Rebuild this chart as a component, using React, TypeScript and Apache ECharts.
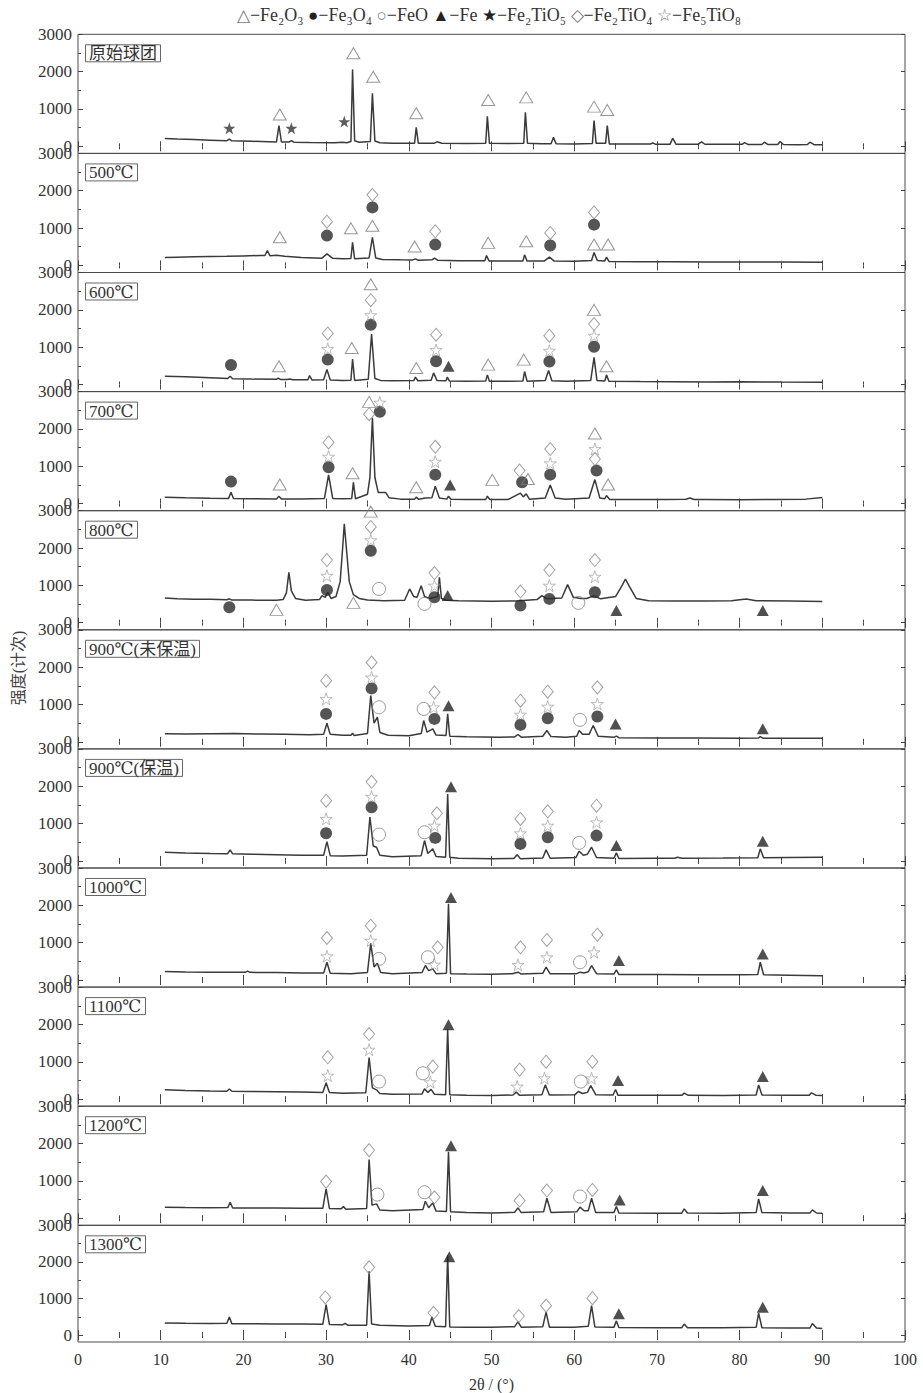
import React, { useEffect, useRef } from "react";
import * as echarts from "echarts";

const panelLabels = ["原始球团", "500℃", "600℃", "700℃", "800℃", "900℃(未保温)", "900℃(保温)", "1000℃", "1100℃", "1200℃", "1300℃"];
const yLabelValues = [0, 1000, 2000, 3000];
const yMinorValues = [500, 1500, 2500];
const legendText = "{g|△}−Fe₂O₃ {k|●}−Fe₃O₄ {g|○}−FeO {k|▲}−Fe {k|★}−Fe₂TiO₅ {g|◇}−Fe₂TiO₄ {g|☆}−Fe₅TiO₈";

// ---- XRD curves, [2θ, intensity] ----
const curveRaw = [[10.5,210],[12,195],[14,180],[16,165],[18,150],[18.3,195],[18.6,148],[21,135],[24,118],[24.3,555],[24.6,115],[25.5,112],[25.8,155],[26.1,110],[28,100],[31,92],[32,110],[32.5,95],[33.0,130],[33.2,2060],[33.45,150],[34,110],[35.35,130],[35.6,1420],[35.9,140],[36.5,95],[38,85],[40.7,85],[40.9,510],[41.15,85],[43.1,85],[43.4,120],[44,80],[47,75],[49.3,80],[49.5,804],[49.75,80],[52,72],[53.9,80],[54.1,911],[54.35,80],[56,70],[57.2,70],[57.5,244],[57.8,68],[60,65],[62.2,75],[62.4,689],[62.65,80],[63.8,80],[64.0,555],[64.25,65],[67,60],[69.2,60],[69.5,90],[69.8,58],[71.6,58],[71.9,218],[72.3,58],[75.0,56],[75.4,120],[75.8,55],[78,52],[80.3,52],[80.6,100],[81,50],[82.7,50],[83,110],[83.4,50],[84.6,49],[84.9,129],[85.3,48],[87,45],[88.2,46],[88.5,111],[89,45],[90,40]];
const curve500 = [[10.5,212],[12,220],[14,230],[16,240],[18,245],[20,255],[22,265],[22.6,265],[22.9,398],[23.2,260],[24,270],[25,245],[27,215],[29.5,195],[30.1,310],[30.8,190],[32,175],[33.0,185],[33.2,620],[33.45,175],[35.2,200],[35.6,754],[36.0,200],[36.8,160],[39,150],[40.5,148],[40.8,176],[41.1,140],[42.8,150],[43.1,194],[43.5,140],[46,125],[49.2,125],[49.4,265],[49.7,120],[52,115],[53.8,120],[54.0,283],[54.3,115],[56.4,120],[57.0,220],[57.6,115],[60,110],[62.1,130],[62.4,345],[62.8,130],[63.7,120],[63.9,220],[64.2,105],[68,100],[72,95],[76,92],[80,90],[85,88],[90,85]];
const curve600 = [[10.5,222],[13,205],[16,180],[18.1,160],[18.4,222],[18.7,155],[21,145],[24.0,140],[24.2,169],[24.5,135],[25.3,132],[25.6,150],[26,130],[27.8,125],[28.0,240],[28.3,120],[29.7,125],[30.1,400],[30.5,120],[32,110],[33.0,115],[33.2,684],[33.45,110],[35.1,140],[35.5,1351],[35.9,160],[36.6,110],[38,100],[40.6,105],[40.8,196],[41.1,100],[42.7,115],[43.0,311],[43.4,110],[44.5,100],[44.65,196],[44.9,95],[47,90],[49.3,92],[49.5,258],[49.75,90],[52,88],[53.8,95],[54.0,347],[54.3,90],[56.5,110],[56.9,373],[57.3,100],[59,85],[62.0,110],[62.4,729],[62.75,110],[63.7,95],[63.9,258],[64.2,85],[68,78],[72,75],[76,70],[80,72],[85,66],[90,62]];
const curve700 = [[10.5,173],[13,160],[16,145],[18.2,140],[18.5,306],[18.8,135],[21,130],[24.0,125],[24.3,199],[24.6,125],[27,125],[29.8,140],[30.3,768],[30.8,140],[32,130],[33.1,140],[33.3,572],[33.55,130],[35.0,250],[35.3,700],[35.6,2300],[35.9,700],[36.3,300],[37.2,300],[37.6,160],[39,120],[40.7,120],[40.9,173],[41.2,115],[42.0,150],[42.8,160],[43.2,466],[43.7,150],[44.6,120],[44.8,199],[45.1,115],[47,110],[49.3,110],[49.5,199],[49.8,110],[52,110],[53.5,279],[53.85,180],[54.2,262],[54.6,115],[56.5,150],[57.1,501],[57.7,150],[59,115],[61.8,150],[62.5,643],[63.1,150],[63.7,130],[63.9,217],[64.3,110],[68,110],[71,110],[73.5,115],[74,150],[74.5,112],[76,110],[80,105],[84,110],[88,120],[90,164]];
const curve800 = [[10.5,662],[12,640],[14,630],[16,625],[18,615],[18.3,640],[18.6,605],[21,605],[24,600],[24.8,620],[25.2,800],[25.5,1348],[25.8,850],[26.3,650],[27.5,600],[29.2,620],[29.5,726],[29.9,680],[30.2,815],[30.6,650],[31.2,700],[31.7,1100],[32.0,2000],[32.2,2650],[32.45,2000],[32.8,1100],[33.3,750],[34,650],[35,610],[37,590],[39.5,600],[40.1,904],[40.6,700],[41.0,680],[41.5,992],[41.9,700],[42.5,650],[43.5,700],[43.7,1215],[43.95,650],[44.5,600],[46,585],[50,575],[53,580],[55.5,620],[56.1,726],[56.7,640],[58.5,660],[59.2,1019],[59.9,680],[60.8,650],[61.5,650],[62.4,720],[63.2,640],[65,700],[65.8,1000],[66.2,1171],[66.6,1000],[67.5,650],[69,590],[72,580],[76,580],[79,590],[80.8,635],[82,590],[86,580],[90,566]];
const curve900a = [[10.5,213],[13,210],[16,215],[19,220],[22,210],[25,200],[28,190],[29.7,200],[30.1,498],[30.5,200],[32,175],[33.0,175],[33.2,230],[33.4,170],[35.0,220],[35.4,1236],[35.8,500],[36.2,658],[36.5,250],[37.5,175],[40,160],[41.5,220],[41.8,569],[42.2,260],[42.9,347],[43.3,180],[44.5,170],[44.7,747],[44.95,150],[47,135],[51,125],[52.8,130],[53.2,196],[53.6,125],[56.2,150],[56.7,302],[57.2,140],[59,120],[60.3,150],[60.6,302],[61.0,200],[61.8,200],[62.3,436],[62.9,150],[64.8,120],[65.1,151],[65.4,110],[70,100],[75,100],[80,95],[82.3,100],[82.5,142],[82.8,98],[86,95],[90,98]];
const curve900b = [[10.5,234],[13,215],[16,200],[18.1,195],[18.4,296],[18.7,190],[21,180],[24,165],[27,150],[29.7,150],[30.1,518],[30.5,140],[32,130],[34.9,150],[35.3,1176],[35.7,400],[36.1,367],[36.5,150],[38,110],[41.5,140],[41.9,545],[42.3,200],[42.9,323],[43.3,120],[44.45,100],[44.7,1789],[44.95,100],[46,70],[50,58],[52.7,65],[53.1,163],[53.5,60],[56.2,80],[56.6,296],[57.1,70],[60.2,90],[60.6,260],[61.1,150],[61.6,180],[62.1,367],[62.7,90],[64.8,70],[65.1,216],[65.4,65],[70,70],[72.2,72],[72.5,100],[73,72],[78,75],[82.2,85],[82.5,323],[82.9,85],[86,90],[90,100]];
const curve1000 = [[10.5,227],[13,215],[16,210],[19,205],[20.2,205],[20.5,240],[20.8,205],[24,200],[27,190],[29.7,185],[30.1,476],[30.5,180],[33,170],[35.0,200],[35.4,980],[35.8,350],[36.2,450],[36.6,200],[38,170],[41.6,200],[42.0,388],[42.4,250],[42.9,299],[43.3,170],[44.55,180],[44.8,2040],[45.05,170],[47,160],[50,155],[52.5,170],[53.2,210],[53.6,160],[56.2,180],[56.6,343],[57.1,165],[60.3,170],[60.7,210],[61.2,190],[61.7,220],[62.1,388],[62.7,170],[64.8,160],[65.1,272],[65.4,150],[70,145],[75,140],[80,140],[82.2,150],[82.5,476],[82.9,140],[86,130],[90,112]];
const curve1100 = [[10.5,248],[13,230],[16,215],[18.0,212],[18.3,270],[18.6,210],[21,205],[24,200],[27,190],[29.6,180],[30.0,435],[30.4,175],[32,160],[34.8,170],[35.2,1110],[35.6,300],[36.1,248],[36.5,150],[38,130],[41.6,140],[41.9,275],[42.3,180],[42.7,260],[43.1,130],[44.45,120],[44.7,1874],[44.95,120],[47,100],[50,95],[52.6,110],[53.0,186],[53.4,100],[56.1,120],[56.5,381],[57.0,110],[60.1,120],[60.5,203],[61.0,150],[61.6,180],[62.0,364],[62.6,120],[64.7,110],[65.0,257],[65.3,100],[70,100],[73.0,100],[73.3,160],[73.8,100],[78,95],[82.0,110],[82.3,381],[82.7,110],[86,100],[88.4,100],[88.7,168],[89.2,105],[90,97]];
const curve1200 = [[10.5,295],[13,285],[16,280],[18.1,285],[18.4,429],[18.7,275],[21,275],[24,275],[27,270],[29.6,265],[30.0,784],[30.4,260],[31.8,250],[32.1,310],[32.4,240],[34.9,260],[35.2,1570],[35.55,350],[36.1,384],[36.5,220],[38,200],[41.7,230],[42.0,455],[42.4,280],[42.9,411],[43.3,190],[44.55,180],[44.8,1780],[45.05,170],[47,150],[50,140],[52.8,160],[53.2,277],[53.6,150],[56.3,170],[56.7,535],[57.2,150],[60.3,170],[60.7,295],[61.2,200],[61.7,200],[62.1,535],[62.6,150],[64.8,150],[65.1,313],[65.4,140],[70,135],[73.0,135],[73.3,250],[73.7,140],[78,135],[82.0,150],[82.3,517],[82.7,150],[86,140],[88.5,137],[88.8,224],[89.3,140],[90,135]];
const curve1300 = [[10.5,329],[13,320],[16,315],[18.0,320],[18.3,493],[18.6,310],[21,310],[24,305],[27,300],[29.6,295],[30.0,831],[30.4,290],[32.0,280],[32.3,320],[32.6,270],[34.9,270],[35.2,1740],[35.5,300],[36.5,270],[40,245],[42.5,260],[42.8,493],[43.2,240],[44.45,230],[44.7,2180],[44.95,220],[47,210],[50,210],[52.8,230],[53.2,360],[53.6,215],[56.2,230],[56.6,627],[57.0,215],[60,210],[61.7,240],[62.1,804],[62.5,220],[64.8,210],[65.1,387],[65.4,205],[70,200],[73.0,200],[73.3,300],[73.7,200],[78,200],[82.0,210],[82.3,600],[82.7,200],[86,195],[88.5,192],[88.8,316],[89.3,190],[90,182]];

// ---- phase markers, [2θ, intensity] ----
const markRaw = {
  starF: [[18.3,484],[25.8,484],[32.2,662]],
  triH: [[24.4,850],[33.3,2493],[35.7,1862],[40.9,884],[49.6,1240],[54.2,1311],[62.4,1062],[64.0,973]],
};
const mark500 = {
  triH: [[24.4,754],[33.0,993],[35.6,1064],[40.7,505],[49.6,603],[54.2,647],[62.4,558],[64.1,558]],
  diaH: [[30.1,1171],[35.6,1891],[43.2,914],[57.1,869],[62.4,1420]],
  cirF: [[30.1,798],[35.6,1554],[43.2,558],[57.1,532],[62.4,1091]],
};
const mark600 = {
  cirF: [[18.5,524],[30.2,667],[35.4,1600],[43.3,622],[57.0,613],[62.4,1013]],
  triH: [[24.3,489],[33.1,978],[35.4,2684],[40.9,444],[49.6,533],[53.9,667],[62.4,2000],[63.9,489]],
  diaH: [[30.2,1369],[35.4,2258],[43.3,1333],[57.0,1307],[62.4,1618]],
  starH: [[30.2,951],[35.4,1858],[43.3,924],[57.0,907],[62.4,1307]],
  triF: [[44.8,489]],
};
const mark700 = {
  cirF: [[18.5,590],[30.3,972],[36.5,2457],[43.2,776],[53.7,572],[57.1,776],[62.7,884]],
  triH: [[24.4,510],[33.2,813],[35.2,2724],[40.9,439],[50.1,635],[54.4,661],[62.5,1879],[64.1,510]],
  diaH: [[30.3,1639],[35.2,2395],[43.2,1523],[53.4,884],[57.1,1461],[62.5,1194]],
  starH: [[30.3,1256],[36.5,2706],[43.2,1123],[57.1,1079],[62.5,1461]],
  triF: [[45.0,501]],
};
const mark800 = {
  cirF: [[18.3,415],[30.1,876],[35.4,1926],[43.1,682],[53.5,460],[57.0,637],[62.5,815]],
  triH: [[24.0,344],[33.3,531],[35.4,2975]],
  diaH: [[30.1,1677],[35.4,2566],[43.1,1330],[53.5,834],[57.0,1410],[62.5,1677]],
  starH: [[30.1,1259],[35.4,2210],[43.1,993],[57.0,993],[62.5,1233]],
  cirH: [[36.4,904],[41.9,504],[60.5,531]],
  triF: [[44.7,726],[65.1,326],[82.8,326]],
};
const mark900a = {
  diaH: [[30.0,1636],[35.5,2124],[43.1,1324],[53.5,1102],[56.8,1342],[62.8,1458]],
  starH: [[30.0,1147],[35.5,1724],[43.0,924],[53.5,729],[56.8,942],[62.8,1013]],
  cirF: [[30.0,747],[35.5,1431],[43.1,613],[53.5,453],[56.8,631],[62.8,676]],
  cirH: [[36.4,924],[41.8,880],[60.7,587]],
  triF: [[44.8,969],[65.0,480],[82.8,347]],
};
const mark900b = {
  diaH: [[30.0,1612],[35.5,2118],[43.4,1274],[53.5,1123],[56.8,1327],[62.7,1478]],
  starH: [[30.0,1123],[35.5,1718],[43.1,945],[53.5,740],[56.8,945],[62.7,1034]],
  cirF: [[30.0,740],[35.5,1434],[43.2,616],[53.5,456],[56.8,634],[62.7,678]],
  cirH: [[36.4,705],[41.9,767],[60.6,483]],
  triF: [[45.1,1985],[65.1,412],[82.8,527]],
};
const mark1000 = {
  diaH: [[30.1,1125],[35.4,1454],[43.5,876],[53.5,876],[56.7,1072],[62.8,1214]],
  starH: [[30.1,636],[35.4,1054],[43.1,414],[53.2,405],[56.7,610],[62.4,742]],
  cirH: [[36.4,565],[42.3,610],[60.7,476]],
  triF: [[45.1,2210],[65.4,521],[82.8,699]],
};
const mark1100 = {
  diaH: [[30.2,1119],[35.2,1741],[42.9,870],[53.4,790],[56.6,1003],[62.2,1003]],
  starH: [[30.2,630],[35.2,1324],[42.6,452],[53.1,337],[56.4,559],[62.1,559]],
  cirH: [[36.4,470],[41.7,692],[60.8,470]],
  triF: [[44.8,1990],[65.3,497],[82.8,604]],
};
const mark1200 = {
  diaH: [[30.0,980],[35.2,1824],[43.1,561],[53.4,473],[56.7,740],[62.2,757]],
  cirH: [[36.2,633],[41.9,695],[60.7,580]],
  triF: [[45.1,1940],[65.5,490],[82.8,740]],
};
const mark1300 = {
  diaH: [[29.9,1027],[35.2,1853],[43.0,609],[53.3,520],[56.6,804],[62.2,1009]],
  triF: [[44.9,2138],[65.4,582],[82.8,760]],
};

const curves = [curveRaw, curve500, curve600, curve700, curve800, curve900a, curve900b, curve1000, curve1100, curve1200, curve1300];
const marks: Record<string, number[][]>[] = [markRaw, mark500, mark600, mark700, mark800, mark900a, mark900b, mark1000, mark1100, mark1200, mark1300];

const STAR = "path://M50,0 L61.8,35.5 L99,35.5 L69,57.5 L80.5,93 L50,71 L19.5,93 L31,57.5 L1,35.5 L38.2,35.5 Z";
const SYM: Record<string, any> = {
  triH: { symbol: "triangle", size: [13, 11], style: { color: "rgba(255,255,255,0)", borderColor: "#7c7c7c", borderWidth: 1 } },
  triF: { symbol: "triangle", size: [12, 11], style: { color: "#232323" } },
  cirF: { symbol: "circle", size: 12, style: { color: "#2b2b2b" } },
  cirH: { symbol: "circle", size: 13, style: { color: "rgba(255,255,255,0)", borderColor: "#808080", borderWidth: 1 } },
  diaH: { symbol: "diamond", size: [11, 13], style: { color: "rgba(255,255,255,0)", borderColor: "#8a8a8a", borderWidth: 1 } },
  starF: { symbol: STAR, size: 12, style: { color: "#333" } },
  starH: { symbol: STAR, size: 12, style: { color: "rgba(255,255,255,0)", borderColor: "#a0a0a0", borderWidth: 0.9 } },
};

const FONT = '"Liberation Serif","DejaVu Serif","Noto Sans CJK SC",serif';

export default function App() {
  const ref = useRef<HTMLDivElement>(null);
  useEffect(() => {
    if (!ref.current) return;
    const chart = echarts.init(ref.current, null, { renderer: "svg" });
    const N = curves.length;
    const top0 = 34.3;
    const ph = 119.1;
    const grids: any[] = [];
    const xAxes: any[] = [];
    const yAxes: any[] = [];
    const titles: any[] = [];
    const series: any[] = [];
    const tickColor = "#444";
    const plain = (v: number) => String(v);
    for (let i = 0; i < N; i++) {
      const top = top0 + i * ph;
      grids.push({ left: 78, width: 827, top, height: ph, show: true, borderColor: "#4a4a4a", borderWidth: 1, backgroundColor: "transparent" });
      const last = i === N - 1;
      const xBase = {
        type: "value", gridIndex: i, min: 0, max: 100, interval: 10,
        axisLine: { show: false },
        axisTick: { show: true, inside: true, length: 5, lineStyle: { color: tickColor } },
        minorTick: { show: true, splitNumber: 2, length: 3, lineStyle: { color: tickColor } },
        splitLine: { show: false }, minorSplitLine: { show: false },
      };
      xAxes.push({
        ...xBase, position: "bottom",
        axisLabel: { show: last, fontSize: 16, color: "#333", fontFamily: FONT, margin: 9, formatter: plain },
        name: last ? "2θ / (°)" : "", nameLocation: "middle", nameGap: 34,
        nameTextStyle: { fontSize: 16, color: "#333", fontFamily: FONT },
      });
      xAxes.push({ ...xBase, position: "top", axisLabel: { show: false } });
      const yBase = { type: "value", gridIndex: i, min: -190, max: 3000, axisLine: { show: false }, splitLine: { show: false } };
      yAxes.push({
        ...yBase, position: "left",
        axisTick: { show: true, inside: true, length: 5, customValues: yLabelValues, lineStyle: { color: tickColor } },
        axisLabel: { show: true, customValues: yLabelValues, fontSize: 17, color: "#333", fontFamily: FONT, margin: 6, formatter: plain },
      });
      yAxes.push({
        ...yBase, position: "left",
        axisTick: { show: true, inside: true, length: 3, customValues: yMinorValues, lineStyle: { color: tickColor } },
        axisLabel: { show: false, customValues: yMinorValues },
      });
      yAxes.push({
        ...yBase, position: "right",
        axisTick: { show: true, inside: true, length: 4, customValues: yLabelValues, lineStyle: { color: tickColor } },
        axisLabel: { show: false, customValues: yLabelValues },
      });
      titles.push({
        text: panelLabels[i], left: 85, top: top + 10,
        borderColor: "#666", borderWidth: 1, padding: [1, 4, 0, 4],
        textStyle: { fontSize: 17, fontWeight: "normal", color: "#333", fontFamily: FONT },
      });
      series.push({
        type: "line", xAxisIndex: 2 * i, yAxisIndex: 3 * i, data: curves[i],
        symbol: "none", showSymbol: false, silent: true,
        lineStyle: { color: "#3a3a3a", width: 1.5 }, z: 2,
      });
      const m = marks[i];
      Object.keys(m).forEach((k) => {
        const s = SYM[k];
        series.push({
          type: "scatter", xAxisIndex: 2 * i, yAxisIndex: 3 * i, data: m[k],
          symbol: s.symbol, symbolSize: s.size, itemStyle: s.style, silent: true, z: 3,
        });
      });
    }
    chart.setOption({
      animation: false,
      backgroundColor: "#ffffff",
      title: titles,
      grid: grids,
      xAxis: xAxes,
      yAxis: yAxes,
      series,
      graphic: [
        {
          type: "text", x: 489, y: 15,
          style: {
            text: legendText, align: "center", verticalAlign: "middle",
            fontSize: 18, fontFamily: FONT, fill: "#333",
            rich: { g: { fontSize: 17, fill: "#777", color: "#777" }, k: { fontSize: 17, fill: "#222", color: "#222" } },
          },
        },
        {
          type: "text", x: 18, y: 668, rotation: Math.PI / 2,
          style: { text: "强度(计次)", align: "center", verticalAlign: "middle", fontSize: 16, fontFamily: FONT, fill: "#444" },
        },
      ],
    });
    return () => chart.dispose();
  }, []);
  return <div ref={ref} style={{ position: "absolute", left: 0, top: 0, width: 923, height: 1393 }} />;
}
